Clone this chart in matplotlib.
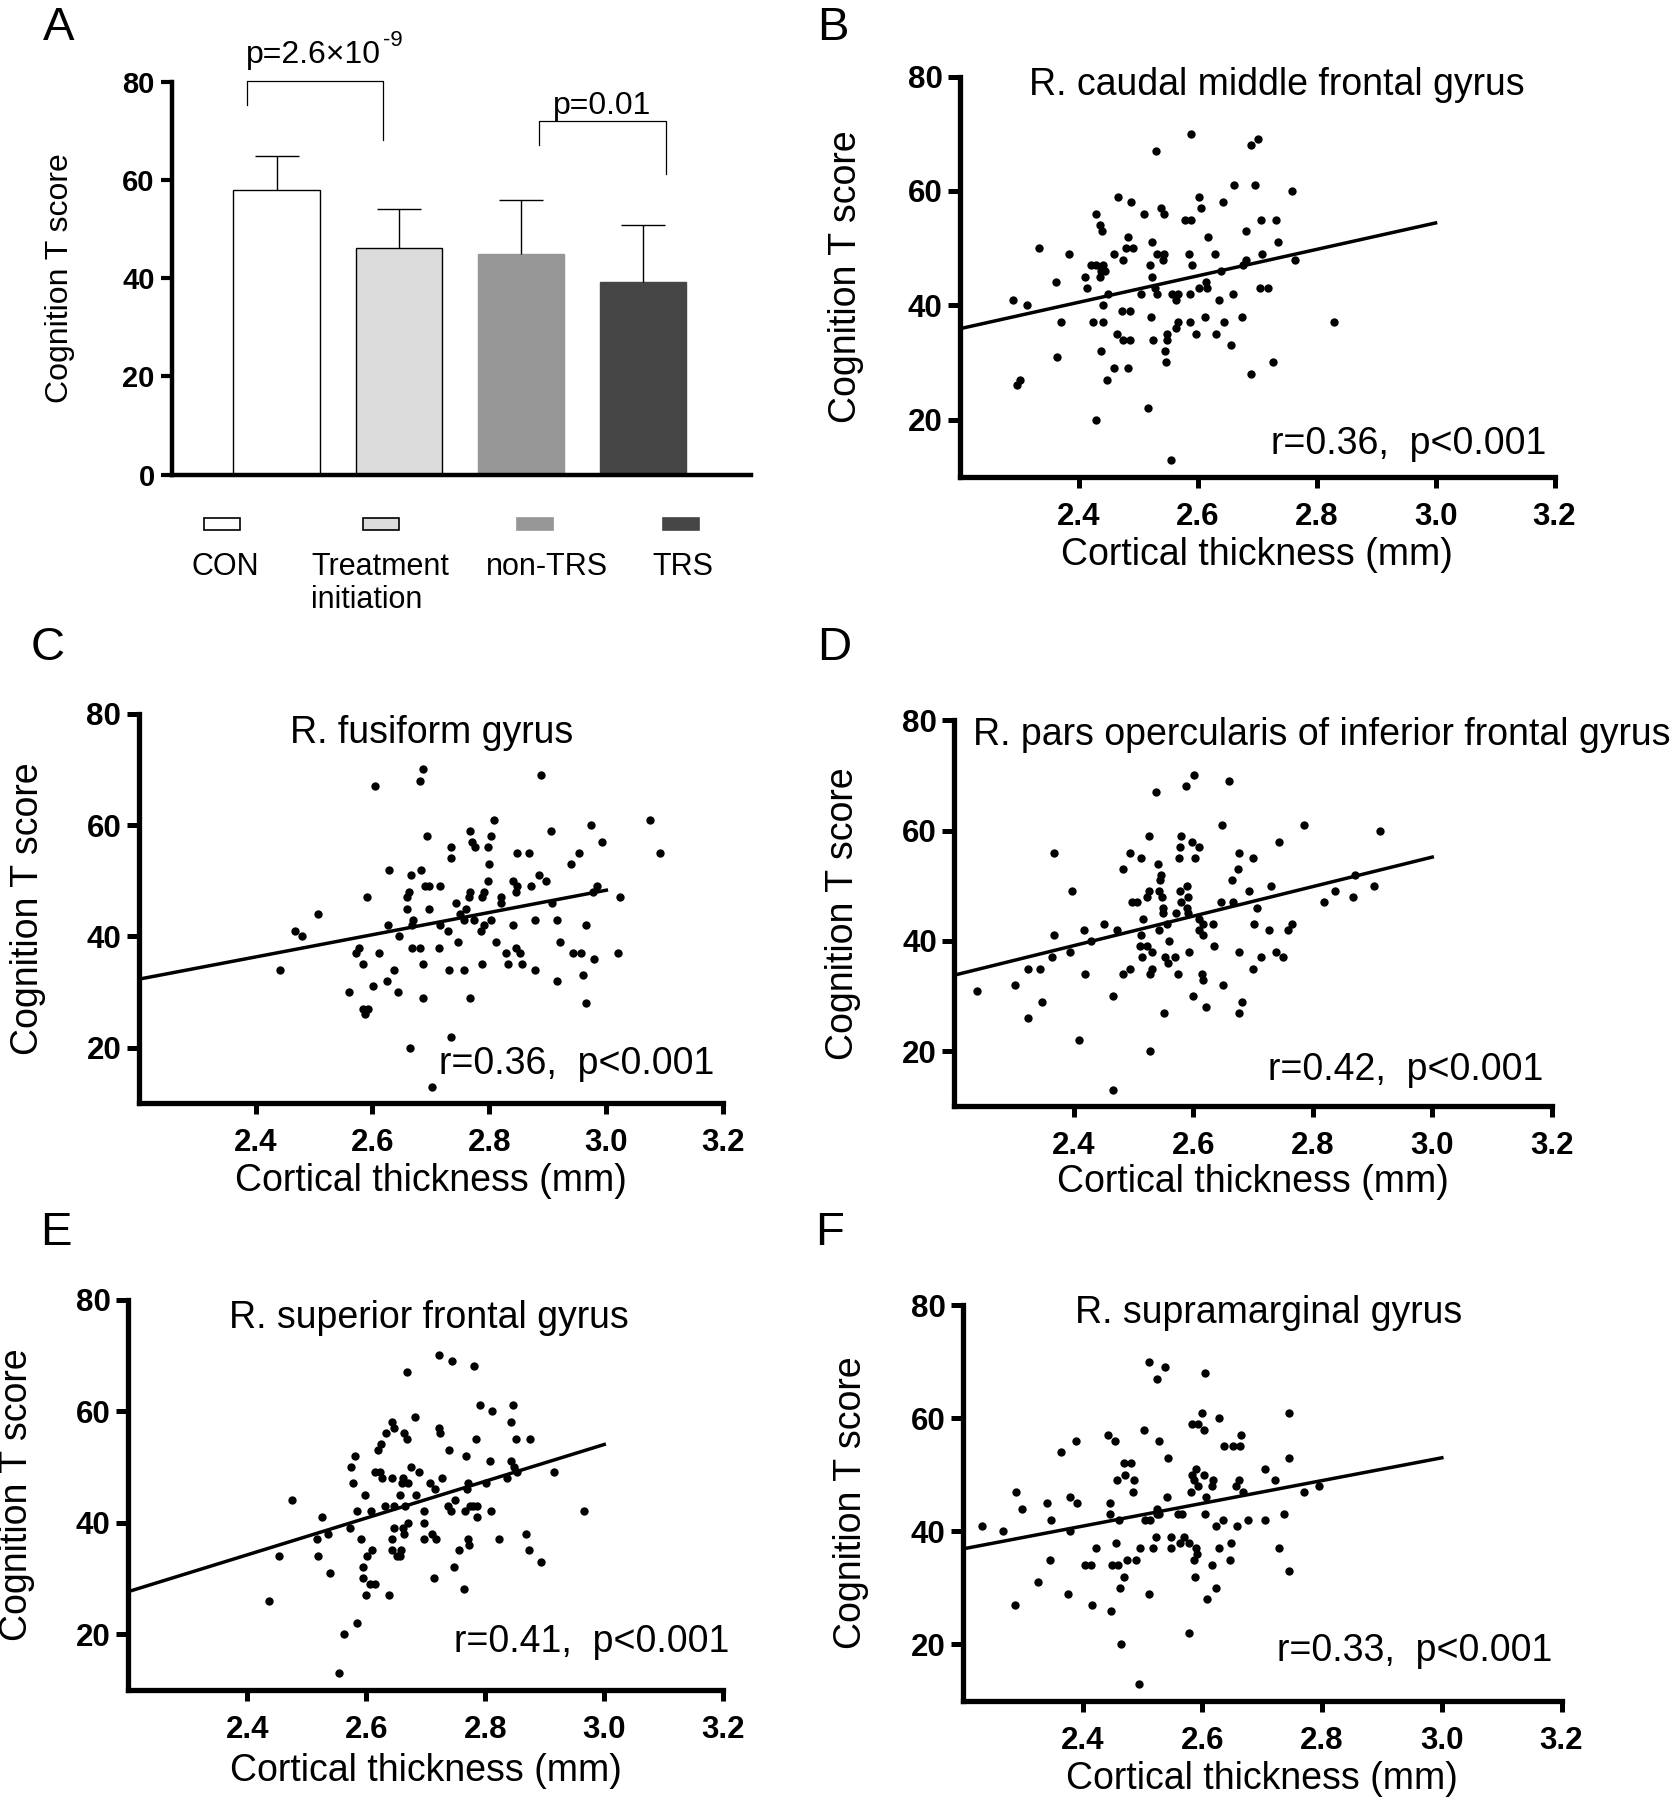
import matplotlib
matplotlib.use("Agg")
import matplotlib.pyplot as plt
from matplotlib.patches import Rectangle

plt.rcParams['font.family'] = ['Liberation Sans', 'DejaVu Sans']

# ---------------- data ----------------
# Panel A: group means and SDs
groups = ['CON', 'Treatment\ninitiation', 'non-TRS', 'TRS']
means = [57.9, 46.2, 44.9, 39.3]
sds = [6.9, 7.9, 11.0, 11.5]
bar_colors = ['white', '#dcdcdc', '#969696', '#454545']
bar_edges = ['black', 'black', '#969696', '#454545']

# significance brackets: x left, x right, top, left leg end, right leg end
brk1 = [-0.24, 0.87, 80.2, 75.2, 68.2]
brk2 = [2.145, 3.185, 71.9, 67.1, 61.1]
p_text1 = ('p=2.6×10', '-9')
p_text2 = 'p=0.01'

# Panel B: R. caudal middle frontal gyrus
bx = [2.588, 2.701, 2.689, 2.530, 2.661, 2.697, 2.758, 2.466, 2.603, 2.488,
      2.643, 2.538, 2.605, 2.429, 2.509, 2.543, 2.579, 2.588, 2.706, 2.731,
      2.435, 2.439, 2.681, 2.483, 2.617, 2.523, 2.735, 2.334, 2.479, 2.491,
      2.383, 2.460, 2.531, 2.543, 2.585, 2.629, 2.708, 2.474, 2.541, 2.682,
      2.764, 2.421, 2.429, 2.440, 2.519, 2.591, 2.677, 2.410, 2.437, 2.444,
      2.435, 2.524, 2.640, 2.361, 2.414, 2.504, 2.528, 2.532, 2.556, 2.567,
      2.587, 2.602, 2.614, 2.616, 2.659, 2.704, 2.719, 2.450, 2.289, 2.563,
      2.636, 2.313, 2.440, 2.473, 2.487, 2.521, 2.612, 2.675, 2.370, 2.424,
      2.441, 2.567, 2.587, 2.644, 2.830, 2.563, 2.465, 2.549, 2.597, 2.631,
      2.474, 2.487, 2.525, 2.548, 2.656, 2.437, 2.545, 2.364, 2.547, 2.726,
      2.460, 2.483, 2.689, 2.302, 2.448, 2.297, 2.516, 2.429, 2.555]
by = [70, 69, 68, 67, 61, 61, 60, 59, 59, 58,
      58, 57, 57, 56, 56, 56, 55, 55, 55, 55,
      54, 53, 53, 52, 52, 51, 51, 50, 50, 50,
      49, 49, 49, 49, 49, 49, 49, 48, 48, 48,
      48, 47, 47, 47, 47, 47, 47, 45, 46, 46,
      45, 45, 46, 44, 43, 42, 43, 42, 42, 42,
      42, 43, 44, 43, 42, 43, 43, 42, 41, 41,
      41, 40, 40, 39, 39, 38, 38, 38, 37, 37,
      37, 37, 37, 37, 37, 36, 35, 35, 35, 35,
      34, 34, 34, 34, 33, 32, 32, 31, 30, 30,
      29, 29, 28, 27, 27, 26, 22, 20, 13]
b_fit = [35.9, 54.4]

# Panel C: R. fusiform gyrus
cx = [2.687, 2.682, 2.889, 2.605, 3.074, 2.807, 2.974, 2.766, 2.906, 2.693,
      2.803, 2.770, 2.993, 2.775, 2.734, 2.797, 3.091, 2.847, 2.867, 2.954,
      2.735, 2.800, 2.940, 2.628, 2.683, 2.666, 2.884, 2.841, 2.797, 2.896,
      2.689, 2.697, 2.715, 2.847, 2.871, 2.984, 2.662, 2.767, 2.791, 2.846,
      2.977, 2.591, 2.659, 2.765, 2.787, 2.820, 3.023, 2.742, 2.907, 2.659,
      2.696, 2.760, 2.820, 2.506, 2.749, 2.757, 2.773, 2.669, 2.803, 2.878,
      2.916, 2.667, 2.626, 2.715, 2.791, 2.840, 2.966, 2.467, 2.729, 2.785,
      2.479, 2.646, 2.746, 2.812, 2.920, 2.577, 2.667, 2.681, 2.714, 2.846,
      2.571, 2.612, 2.829, 2.852, 2.943, 2.956, 3.020, 2.979, 2.583, 2.687,
      2.788, 2.832, 2.856, 2.441, 2.637, 2.731, 2.756, 2.878, 2.960, 2.625,
      2.915, 2.601, 2.559, 2.643, 2.687, 2.767, 2.965, 2.583, 2.592, 2.588,
      2.735, 2.664, 2.702]
cy = [70, 68, 69, 67, 61, 61, 60, 59, 59, 58,
      58, 57, 57, 56, 56, 56, 55, 55, 55, 55,
      54, 53, 53, 52, 52, 51, 51, 50, 50, 50,
      49, 49, 49, 49, 49, 49, 48, 48, 48, 48,
      48, 47, 47, 47, 47, 47, 47, 46, 46, 45,
      45, 45, 46, 44, 44, 43, 43, 43, 43, 43,
      43, 42, 42, 42, 42, 42, 42, 41, 41, 41,
      40, 40, 39, 39, 39, 38, 38, 38, 38, 38,
      37, 37, 37, 37, 37, 37, 37, 36, 35, 35,
      35, 35, 35, 34, 34, 34, 34, 34, 33, 32,
      32, 31, 30, 30, 29, 29, 28, 27, 27, 26,
      22, 20, 13]
c_fit = [32.3, 48.3]

# Panel D: R. pars opercularis of inferior frontal gyrus
dx = [2.601, 2.587, 2.659, 2.538, 2.648, 2.785, 2.913, 2.526, 2.580, 2.598,
      2.743, 2.609, 2.577, 2.366, 2.494, 2.676, 2.513, 2.576, 2.602, 2.700,
      2.541, 2.546, 2.545, 2.483, 2.675, 2.871, 2.665, 2.526, 2.542, 2.578,
      2.589, 2.730, 2.903, 2.397, 2.693, 2.837, 2.523, 2.548, 2.591, 2.867,
      2.498, 2.505, 2.580, 2.646, 2.667, 2.818, 2.550, 2.589, 2.706, 2.550,
      2.571, 2.591, 2.516, 2.609, 2.556, 2.617, 2.633, 2.451, 2.702, 2.765,
      2.417, 2.473, 2.542, 2.610, 2.727, 2.758, 2.366, 2.513, 2.617, 2.428,
      2.559, 2.510, 2.523, 2.635, 2.393, 2.531, 2.593, 2.676, 2.738, 2.363,
      2.514, 2.553, 2.569, 2.713, 2.750, 2.557, 2.323, 2.343, 2.494, 2.531,
      2.700, 2.419, 2.482, 2.527, 2.575, 2.614, 2.617, 2.302, 2.649, 2.237,
      2.466, 2.599, 2.347, 2.681, 2.621, 2.551, 2.677, 2.323, 2.408, 2.527,
      2.465]
dy = [70, 68, 69, 67, 61, 61, 60, 59, 59, 58,
      58, 57, 57, 56, 56, 56, 55, 55, 55, 55,
      54, 52, 51, 53, 53, 52, 51, 49, 49, 49,
      50, 50, 50, 49, 49, 49, 48, 48, 48, 48,
      47, 47, 47, 47, 47, 47, 46, 46, 46, 45,
      45, 45, 44, 44, 43, 43, 43, 43, 43, 43,
      42, 42, 42, 42, 42, 42, 41, 41, 41, 40,
      40, 39, 39, 39, 38, 38, 38, 38, 38, 37,
      37, 37, 37, 37, 37, 36, 35, 35, 35, 35,
      35, 34, 34, 34, 34, 34, 33, 32, 32, 31,
      30, 30, 29, 29, 28, 27, 27, 26, 22, 20,
      13]
d_fit = [33.8, 55.2]

# Panel E: R. superior frontal gyrus
ex = [2.723, 2.744, 2.781, 2.668, 2.792, 2.811, 2.846, 2.682, 2.644, 2.844,
      2.723, 2.646, 2.634, 2.664, 2.724, 2.668, 2.785, 2.851, 2.876, 2.625,
      2.620, 2.739, 2.582, 2.767, 2.808, 2.843, 2.575, 2.676, 2.849, 2.614,
      2.624, 2.689, 2.854, 2.915, 2.627, 2.643, 2.662, 2.728, 2.837, 2.578,
      2.660, 2.670, 2.707, 2.771, 2.802, 2.715, 2.770, 2.598, 2.657, 2.684,
      2.749, 2.475, 2.631, 2.647, 2.665, 2.738, 2.774, 2.780, 2.787, 2.585,
      2.608, 2.697, 2.742, 2.766, 2.809, 2.966, 2.526, 2.787, 2.671, 2.697,
      2.572, 2.647, 2.662, 2.536, 2.663, 2.711, 2.868, 2.517, 2.591, 2.643,
      2.697, 2.717, 2.771, 2.823, 2.772, 2.609, 2.643, 2.659, 2.756, 2.874,
      2.454, 2.519, 2.601, 2.651, 2.657, 2.894, 2.594, 2.748, 2.540, 2.594,
      2.714, 2.607, 2.614, 2.765, 2.600, 2.638, 2.437, 2.585, 2.562, 2.555]
ey = [70, 69, 68, 67, 61, 60, 61, 59, 58, 58,
      57, 57, 56, 56, 56, 55, 55, 55, 55, 54,
      53, 53, 52, 52, 51, 51, 50, 50, 50, 49,
      49, 49, 49, 49, 48, 48, 48, 48, 48, 47,
      47, 47, 47, 47, 47, 46, 46, 45, 45, 45,
      44, 44, 43, 43, 43, 43, 43, 43, 43, 42,
      42, 42, 42, 42, 42, 42, 41, 41, 40, 40,
      39, 39, 39, 38, 38, 38, 38, 37, 37, 37,
      37, 37, 37, 37, 36, 35, 35, 35, 35, 35,
      34, 34, 34, 34, 34, 33, 32, 32, 31, 30,
      30, 29, 29, 28, 27, 27, 26, 22, 20, 13]
e_fit = [27.6, 54.0]

# Panel F: R. supramarginal gyrus
fx = [2.511, 2.537, 2.524, 2.605, 2.744, 2.599, 2.627, 2.582, 2.593, 2.602,
      2.502, 2.442, 2.664, 2.389, 2.454, 2.527, 2.636, 2.651, 2.663, 2.363,
      2.543, 2.744, 2.469, 2.480, 2.590, 2.704, 2.471, 2.582, 2.603, 2.457,
      2.486, 2.586, 2.617, 2.661, 2.722, 2.592, 2.616, 2.656, 2.794, 2.288,
      2.484, 2.581, 2.668, 2.770, 2.378, 2.540, 2.606, 2.340, 2.390, 2.445,
      2.299, 2.524, 2.524, 2.446, 2.528, 2.559, 2.565, 2.605, 2.736, 2.347,
      2.460, 2.504, 2.513, 2.634, 2.676, 2.704, 2.231, 2.623, 2.658, 2.266,
      2.379, 2.522, 2.548, 2.569, 2.563, 2.578, 2.455, 2.647, 2.422, 2.496,
      2.517, 2.548, 2.590, 2.628, 2.728, 2.591, 2.346, 2.474, 2.489, 2.586,
      2.646, 2.404, 2.414, 2.448, 2.459, 2.616, 2.744, 2.469, 2.588, 2.326,
      2.462, 2.622, 2.376, 2.511, 2.608, 2.287, 2.415, 2.447, 2.578, 2.464,
      2.494]
fy = [70, 69, 67, 68, 61, 61, 60, 59, 59, 58,
      58, 57, 57, 56, 56, 56, 55, 55, 55, 54,
      53, 53, 52, 52, 51, 51, 50, 50, 50, 49,
      49, 49, 49, 49, 49, 48, 48, 48, 48, 47,
      47, 47, 47, 47, 46, 46, 46, 45, 45, 45,
      44, 44, 43, 43, 43, 43, 43, 43, 43, 42,
      42, 42, 42, 42, 42, 42, 41, 41, 41, 40,
      40, 39, 39, 39, 38, 38, 38, 38, 37, 37,
      37, 37, 37, 37, 37, 36, 35, 35, 35, 35,
      35, 34, 34, 34, 34, 34, 33, 32, 32, 31,
      30, 30, 29, 29, 28, 27, 27, 26, 22, 20,
      13]
f_fit = [36.9, 53.0]

fit_x = [2.2, 3.0]
x_ticks = [2.4, 2.6, 2.8, 3.0, 3.2]
y_ticks = [20, 40, 60, 80]

# ---------------- figure ----------------
W, H = 1670, 1800
fig = plt.figure(figsize=(W / 100, H / 100), dpi=100)
fig.patch.set_facecolor('white')


def px_axes(left, top, right, bottom):
    return fig.add_axes([left / W, 1 - bottom / H, (right - left) / W, (bottom - top) / H])


def clean_spines(ax, lw):
    ax.spines['top'].set_visible(False)
    ax.spines['right'].set_visible(False)
    ax.spines['left'].set_linewidth(lw)
    ax.spines['bottom'].set_linewidth(lw)


# ---- Panel A: bar chart ----
axA = px_axes(171.5, 81.6, 750.5, 474.6)
pos = list(range(len(groups)))
axA.bar(pos, means, width=0.706, color=bar_colors, edgecolor=bar_edges,
        linewidth=1.0, zorder=2)
eb = axA.errorbar(pos, means, yerr=[[0] * len(sds), sds], fmt='none', ecolor='black',
                  elinewidth=1.0, capsize=15.5, capthick=1.0, zorder=3)
eb[1][0].set_visible(False)  # no lower caps
for b in (brk1, brk2):
    axA.plot([b[0], b[0], b[1], b[1]], [b[3], b[2], b[2], b[4]], color='black',
             lw=0.9, clip_on=False)
t1 = axA.text(brk1[0] - 0.01, 83.8, p_text1[0], fontsize=23, ha='left', va='baseline')
axA.text((brk2[0] + brk2[1]) / 2, 73.4, p_text2, fontsize=23, ha='center', va='baseline')
axA.set_xlim(-0.86, 3.88)
axA.set_ylim(0, 80)
axA.set_xticks([])
axA.set_yticks([0, 20, 40, 60, 80])
axA.set_yticklabels(['0', '20', '40', '60', '80'], fontweight='bold')
clean_spines(axA, 3.2)
axA.tick_params(axis='y', width=3.0, length=8, labelsize=21, pad=4)
axA.text(-0.193, 0.5, 'Cognition T score', rotation=90, fontsize=23,
         ha='center', va='center', transform=axA.transAxes)

# superscript exponent placed right after the main p-value text
fig.canvas.draw()
bb = t1.get_window_extent()
fig.text(bb.x1 / W + 0.001, (bb.y0 + 0.62 * bb.height) / H, p_text1[1], fontsize=16,
         ha='left', va='bottom')

# legend row under panel A
leg_x = [0.087, 0.362, 0.628, 0.880]
for lx_, col, ec in zip(leg_x, bar_colors, bar_edges):
    axA.add_patch(Rectangle((lx_ - 0.0315, -0.1415), 0.063, 0.031, transform=axA.transAxes,
                            facecolor=col, edgecolor=ec, linewidth=1.2, clip_on=False))
axA.text(0.093, -0.2555, groups[0], fontsize=22, ha='center', va='baseline',
         transform=axA.transAxes)
axA.text(0.241, -0.2555, groups[1].split('\n')[0], fontsize=22, ha='left', va='baseline',
         transform=axA.transAxes)
axA.text(0.241, -0.3395, groups[1].split('\n')[1], fontsize=22, ha='left', va='baseline',
         transform=axA.transAxes)
axA.text(0.648, -0.2555, groups[2], fontsize=22, ha='center', va='baseline',
         transform=axA.transAxes)
axA.text(0.883, -0.2555, groups[3], fontsize=22, ha='center', va='baseline',
         transform=axA.transAxes)

# ---- scatter panels ----
panels = [
    # box (l, t, r, b), x, y, fit, title, title pos, title ha, stat, stat pos, ylab x, xlab y
    ((959.8, 76.6, 1554.5, 476.8), bx, by, b_fit, 'R. caudal middle frontal gyrus',
     (0.533, 0.979), 'center', 'r=0.36,  p<0.001', (0.986, 0.082), -0.192, -0.195),
    ((138.6, 713.8, 723.3, 1103.3), cx, cy, c_fit, 'R. fusiform gyrus',
     (0.502, 0.951), 'center', 'r=0.36,  p<0.001', (0.984, 0.101), -0.190, -0.200),
    ((954.4, 720.3, 1551.7, 1106.4), dx, dy, d_fit, 'R. pars opercularis of inferior frontal gyrus',
     (0.031, 0.962), 'left', 'r=0.42,  p<0.001', (0.986, 0.094), -0.187, -0.197),
    ((128.1, 1299.5, 723.3, 1689.8), ex, ey, e_fit, 'R. superior frontal gyrus',
     (0.506, 0.953), 'center', 'r=0.41,  p<0.001', (1.011, 0.123), -0.187, -0.208),
    ((963.1, 1305.1, 1561.5, 1701.0), fx, fy, f_fit, 'R. supramarginal gyrus',
     (0.510, 0.981), 'center', 'r=0.33,  p<0.001', (0.984, 0.126), -0.187, -0.196),
]

for box, xs, ys, fit, title, tpos, tha, stat, spos, ylx, xly in panels:
    ax = px_axes(*box)
    ax.scatter(xs, ys, s=36, color='black', linewidths=0, zorder=3, clip_on=False)
    ax.plot(fit_x, fit, color='black', lw=2.5, zorder=2)
    ax.set_xlim(2.2, 3.2)
    ax.set_ylim(10, 80)
    ax.set_xticks(x_ticks)
    ax.set_xticklabels(['%.1f' % t for t in x_ticks], fontweight='bold')
    ax.set_yticks(y_ticks)
    ax.set_yticklabels([str(t) for t in y_ticks], fontweight='bold')
    clean_spines(ax, 3.8)
    ax.tick_params(axis='x', width=3.6, length=8, labelsize=22.5, pad=10)
    ax.tick_params(axis='y', width=3.6, length=8.5, labelsize=22.5, pad=4)
    ax.text(tpos[0], tpos[1], title, fontsize=27, ha=tha, va='center',
            transform=ax.transAxes, clip_on=False)
    ax.text(spos[0], spos[1], stat, fontsize=27, ha='right', va='center',
            transform=ax.transAxes)
    ax.text(ylx, 0.5, 'Cognition T score', rotation=90, fontsize=27,
            ha='center', va='center', transform=ax.transAxes)
    ax.text(0.5, xly, 'Cortical thickness (mm)', fontsize=27,
            ha='center', va='center', transform=ax.transAxes)

# panel letters
letters = [('A', 43, 6), ('B', 817, 6), ('C', 31, 626), ('D', 817, 626),
           ('E', 40, 1211), ('F', 815, 1211)]
for lab, lx, ly in letters:
    fig.text(lx / W, 1 - ly / H, lab, fontsize=34, ha='left', va='top')

fig.savefig('out.png', dpi=100, facecolor='white')
